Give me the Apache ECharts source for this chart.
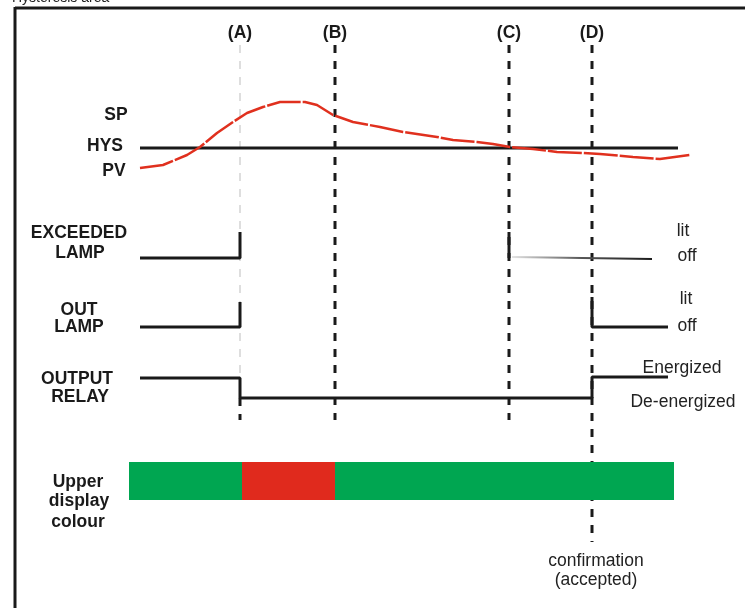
<!DOCTYPE html>
<html><head><meta charset="utf-8">
<script src="https://cdn.jsdelivr.net/npm/echarts@6/dist/echarts.min.js"></script>
<style>html,body{margin:0;padding:0;background:#fff}#c{width:745px;height:608px}</style>
</head><body><div id="c"></div>
<script>
// ---- data (time on x, vertical level on y; diagram units) ----
const eventNames = ['(A)', '(B)', '(C)', '(D)'];
const eventTimes = [240, 335, 509, 592];
const eventLineEnds = [420, 420, 420, 542];
const pvCurve = [[140,168],[163,165],[187,155],[200,147],[217,133],[233,122],[247,113],[263,107],[280,102],[305,102],[317,105],[333,115],[353,122],[380,127],[403,132],[437,137],[453,140],[477,142],[493,144],[510,147],[533,149],[557,152],[583,153],[600,154],[633,157],[660,159],[690,155]];
const hysLevel = 148;
const hysSpan = [140, 678];
const exceededLamp = [[140,258],[240,258],[240,232]];
const exceededLampC = [[509,232],[509,258]];
const exceededFade = [[512,257],[652,259]];
const outLamp = [[140,327],[240,327],[240,302]];
const outLampD = [[592,297],[592,327],[668,327]];
const outputRelay = [[140,378],[240,378],[240,398],[592,398],[592,377],[668,377]];
const colourBar = [[129,242,'#00a651'],[242,335,'#e02a1d'],[335,674,'#00a651']];
const colourBarRow = [462, 500];

const FONT = '"Liberation Sans", Arial, sans-serif';
const chart = echarts.init(document.getElementById('c'));

const series = [];
function lineS(data, color, width, type, z) {
  series.push({type:'line', data, symbol:'none', silent:true, animation:false, z: z||2,
    lineStyle:{color, width, type: type||'solid', cap:'butt'}});
}
// event lines
eventTimes.forEach((t, i) => {
  if (i === 0) {
    lineS([[t,45],[t,395]], '#d4d4d4', 1.5, [8,8], 1);
    lineS([[t,398],[t,420]], '#1a1a1a', 3, [8,8], 1);
  } else {
    lineS([[t,45],[t,eventLineEnds[i]]], '#1a1a1a', 3, [8,8], 1);
  }
});
lineS([[hysSpan[0],hysLevel],[hysSpan[1],hysLevel]], '#1a1a1a', 3);
lineS(pvCurve, '#e0301e', 2.5, [34,2], 3);
lineS(exceededLamp, '#1a1a1a', 3);
lineS(exceededLampC, '#1a1a1a', 3);
series.push({type:'line', data: exceededFade, symbol:'none', silent:true, animation:false,
  lineStyle:{width:1.8, color:new echarts.graphic.LinearGradient(0,0,1,0,[{offset:0,color:'#e8e8e8'},{offset:0.5,color:'#555'},{offset:1,color:'#1a1a1a'}])}});
lineS(outLamp, '#1a1a1a', 3);
lineS(outLampD, '#1a1a1a', 3);
lineS(outputRelay, '#1a1a1a', 3);
series.push({type:'custom', silent:true, animation:false, z:5,
  data: colourBar,
  renderItem: (params, api) => {
    const p0 = api.coord([api.value(0), colourBarRow[0]]);
    const p1 = api.coord([api.value(1), colourBarRow[1]]);
    return {type:'rect', shape:{x:p0[0], y:p0[1], width:p1[0]-p0[0], height:p1[1]-p0[1]},
      style:{fill: colourBar[params.dataIndex][2]}};
  }});

const bold = (x, y, text, align) => ({type:'text', x, y, silent:true,
  style:{text, font:'bold 17.5px '+FONT, fill:'#1a1a1a', align: align||'center', verticalAlign:'middle'}});
const reg = (x, y, text, align) => ({type:'text', x, y, silent:true,
  style:{text, font:'17.5px '+FONT, fill:'#222', align: align||'center', verticalAlign:'middle'}});

const graphics = [
  {type:'line', shape:{x1:15,y1:8,x2:745,y2:8}, style:{stroke:'#1a1a1a', lineWidth:3}},
  {type:'line', shape:{x1:15,y1:7,x2:15,y2:608}, style:{stroke:'#1a1a1a', lineWidth:3}},
  {type:'text', x:12, y:5, style:{text:'Hysteresis area', font:'14px '+FONT, fill:'#222', align:'left', verticalAlign:'bottom'}},
  bold(116,115,'SP'), bold(105,146,'HYS'), bold(114,171,'PV'),
  bold(79,233,'EXCEEDED'), bold(80,253,'LAMP'),
  bold(79,310,'OUT'), bold(79,327,'LAMP'),
  bold(77,379,'OUTPUT'), bold(80,397,'RELAY'),
  bold(78,482,'Upper'), bold(79,501,'display'), bold(78,522,'colour'),
  reg(683,231,'lit'), reg(687,256,'off'), reg(686,299,'lit'), reg(687,326,'off'),
  reg(682,368,'Energized'), reg(683,402,'De-energized'),
  reg(596,561,'confirmation'), reg(596,580,'(accepted)')
];
eventNames.forEach((n,i) => graphics.push(bold(eventTimes[i], 33, n)));

chart.setOption({
  animation:false,
  backgroundColor:'#fff',
  grid:{left:0,right:0,top:0,bottom:0},
  xAxis:{type:'value', min:0, max:745, show:false},
  yAxis:{type:'value', min:0, max:608, inverse:true, show:false},
  series,
  graphic: graphics
});
</script></body></html>
